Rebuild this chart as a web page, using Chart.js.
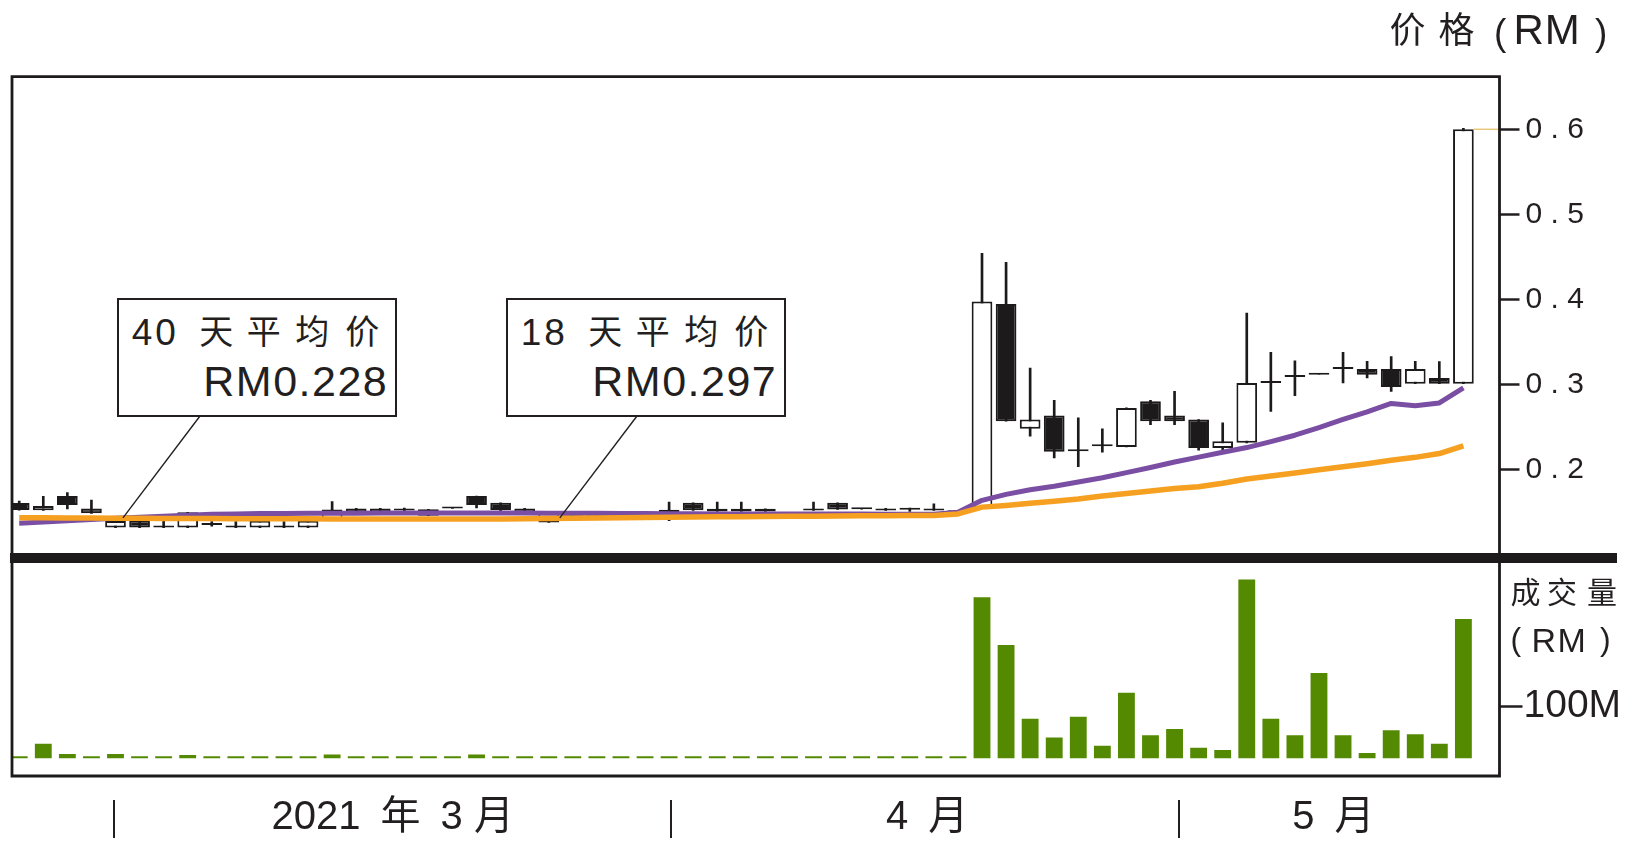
<!DOCTYPE html>
<html lang="zh">
<head>
<meta charset="utf-8">
<title>价格 / 成交量</title>
<script src="https://cdn.jsdelivr.net/npm/chart.js@4.4.1/dist/chart.umd.min.js"></script>
<style>
html,body{margin:0;padding:0;background:#fff;}
#wrap{position:relative;width:1633px;height:852px;overflow:hidden;background:#fff;}
#price{position:absolute;left:0;top:0;}
#vol{position:absolute;left:0;top:553px;}
.t{position:absolute;white-space:pre;line-height:1;color:#231f20;margin:0;padding:0;}
.box{position:absolute;box-sizing:border-box;border:2.7px solid #231f20;background:#fff;}
</style>
</head>
<body>
<div id="wrap">
<canvas id="price" width="1633" height="560"></canvas>
<canvas id="vol" width="1633" height="299"></canvas>
</div>
<script>
// ---------- data ----------
const openP = [
0.161, 0.1522, 0.169, 0.1545, 0.132, 0.1404, 0.132, 0.132, 0.135, 0.132,
0.132, 0.132, 0.132, 0.142, 0.1545, 0.1545, 0.152, 0.146, 0.1545, 0.169,
0.1612, 0.1545, 0.138, 0.146, 0.146, 0.146, 0.146, 0.150, 0.1612, 0.154,
0.154, 0.154, 0.146, 0.152, 0.1612, 0.1535, 0.1545, 0.153, 0.152, 0.150,
0.155, 0.3948, 0.248, 0.2636, 0.2217, 0.2275, 0.2268, 0.2803, 0.2636, 0.2589,
0.2256, 0.2316, 0.302, 0.3089, 0.3116, 0.3183, 0.3183, 0.3183, 0.301, 0.3077,
0.301];
const closeP = [
0.1525, 0.1572, 0.1585, 0.1487, 0.1396, 0.132, 0.132, 0.150, 0.135, 0.132,
0.140, 0.132, 0.140, 0.1533, 0.1495, 0.1495, 0.152, 0.1535, 0.1545, 0.1585,
0.1525, 0.1475, 0.150, 0.146, 0.146, 0.146, 0.146, 0.153, 0.1522, 0.151,
0.151, 0.151, 0.146, 0.152, 0.1533, 0.1535, 0.152, 0.153, 0.1535, 0.150,
0.3975, 0.2569, 0.2589, 0.221, 0.2217, 0.2275, 0.2726, 0.2569, 0.2569, 0.2256,
0.2334, 0.302, 0.302, 0.3089, 0.3116, 0.3183, 0.3116, 0.2972, 0.3183, 0.301,
0.600];
const highP = [
0.163, 0.1686, 0.173, 0.1643, 0.1396, 0.1404, 0.140, 0.150, 0.139, 0.139,
0.140, 0.139, 0.140, 0.1624, 0.1545, 0.1545, 0.155, 0.1535, 0.1545, 0.169,
0.1612, 0.1545, 0.150, 0.146, 0.146, 0.146, 0.146, 0.162, 0.1612, 0.162,
0.162, 0.154, 0.146, 0.162, 0.1612, 0.1535, 0.1545, 0.155, 0.160, 0.150,
0.4543, 0.4437, 0.3195, 0.2815, 0.2609, 0.248, 0.2726, 0.2815, 0.292, 0.2589,
0.255, 0.3839, 0.3378, 0.328, 0.3116, 0.3378, 0.3272, 0.333, 0.3272, 0.327,
0.601];
const lowP = [
0.1525, 0.1522, 0.154, 0.1487, 0.132, 0.132, 0.132, 0.132, 0.1335, 0.132,
0.132, 0.132, 0.132, 0.142, 0.1495, 0.1495, 0.149, 0.146, 0.1545, 0.155,
0.150, 0.1475, 0.138, 0.146, 0.146, 0.146, 0.146, 0.140, 0.1522, 0.151,
0.151, 0.151, 0.146, 0.152, 0.1533, 0.1535, 0.152, 0.151, 0.152, 0.150,
0.155, 0.2569, 0.2393, 0.2139, 0.2034, 0.2205, 0.2268, 0.253, 0.253, 0.2229,
0.2229, 0.2316, 0.2686, 0.287, 0.3116, 0.302, 0.3077, 0.292, 0.301, 0.301,
0.301];
// 成交量 (RM, million)
const volume = [
3, 28, 8, 3, 8, 3, 3, 6, 3, 3,
2, 2, 3, 7, 3, 3, 3, 3, 3, 7,
3, 3, 3, 3, 3, 3, 3, 3, 3, 3,
3, 3, 3, 3, 3, 3, 3, 3, 3, 3,
310, 218, 76, 40, 80, 24, 126, 44, 56, 20,
16, 344, 76, 44, 164, 44, 10, 54, 46, 28,
268];
// 40 天平均价
const ma40 = [
0.1435, 0.1434, 0.1433, 0.1432, 0.1430, 0.1428, 0.1427, 0.1426, 0.1425, 0.1424,
0.1424, 0.1423, 0.1423, 0.1422, 0.1422, 0.1421, 0.1421, 0.1420, 0.1420, 0.1420,
0.1421, 0.1423, 0.1426, 0.1429, 0.1432, 0.1436, 0.1439, 0.1442, 0.1444, 0.1446,
0.1448, 0.1450, 0.1452, 0.1454, 0.1456, 0.1458, 0.1460, 0.1462, 0.1463, 0.148,
0.156, 0.158, 0.1605, 0.163, 0.1655, 0.169, 0.172, 0.175, 0.178, 0.180,
0.184, 0.189, 0.1925, 0.196, 0.200, 0.2035, 0.207, 0.211, 0.2145, 0.219,
0.228];
// 18 天平均价
const ma18 = [
0.1372, 0.1385, 0.1400, 0.1415, 0.1428, 0.1440, 0.1452, 0.1465, 0.1475, 0.1480,
0.1484, 0.1486, 0.1487, 0.1488, 0.1489, 0.1490, 0.1490, 0.1490, 0.1491, 0.1491,
0.1490, 0.1490, 0.1489, 0.1488, 0.1487, 0.1486, 0.1484, 0.1482, 0.1481, 0.1480,
0.1480, 0.1479, 0.1479, 0.1478, 0.1478, 0.1478, 0.1477, 0.1477, 0.1477, 0.150,
0.164, 0.171, 0.1765, 0.1805, 0.1855, 0.1905, 0.1965, 0.2025, 0.209, 0.2148,
0.2205, 0.226, 0.233, 0.2405, 0.2495, 0.259, 0.268, 0.2778, 0.2752, 0.2784,
0.296];
const priceTicks = [0.2, 0.3, 0.4, 0.5, 0.6];
const priceTickLabels = ['0 . 2', '0 . 3', '0 . 4', '0 . 5', '0 . 6'];
const volTicks = [100];
const volTickLabels = ['100M'];
const monthLabels = ['2021\u2002年\u20023 月', '4\u2002月', '5\u2002月'];
const monthLabelPos = [15.52, 37.72, 54.6];      // x-axis value (trading-day index)
const monthDividers = [3.95, 27.07, 48.18];      // x-axis value of month boundary marks

// ---------- style ----------
const INK = '#1c1a1b';
const TXT = '#231f20';
const PURPLE = '#7a4fa3';
const ORANGE = '#f6a022';
const GREEN = '#548a02';
const LAT = "'Liberation Sans', Arial, sans-serif";
const CJK = "'Noto Sans CJK SC', sans-serif";
const MIX = "'Liberation Sans', 'Noto Sans CJK SC', sans-serif";
const X_MIN = -0.3, X_MAX = 61.5;
const AXIS_W = 133.5;

const idx = openP.map((_, i) => i);

const notes = [
  { boxLeft: 117.3, fromX: 200, at: [4.31, 0.1433], days: '40', val: 'RM0.228' },
  { boxLeft: 506.3, fromX: 637, at: [22.46, 0.1433], days: '18', val: 'RM0.297' }
];

const priceFrame = {
  id: 'priceFrame',
  afterDatasetsDraw(c) {
    const { ctx, chartArea: a } = c;
    const xs = c.scales.x, ys = c.scales.y;
    ctx.save();
    const last = closeP.length - 1;
    ctx.strokeStyle = '#e8c77a';
    ctx.lineWidth = 1.5;
    ctx.beginPath();
    ctx.moveTo(xs.getPixelForValue(last) + 10, ys.getPixelForValue(closeP[last]));
    ctx.lineTo(a.right, ys.getPixelForValue(closeP[last]));
    ctx.stroke();
    ctx.strokeStyle = TXT;
    ctx.lineWidth = 1.4;
    notes.forEach(n => {
      ctx.beginPath();
      ctx.moveTo(n.fromX, 416);
      ctx.lineTo(xs.getPixelForValue(n.at[0]), ys.getPixelForValue(n.at[1]));
      ctx.stroke();
    });
    ctx.restore();
  },
  afterDraw(c) {
    const { ctx, chartArea: a } = c;
    ctx.save();
    ctx.strokeStyle = INK;
    ctx.lineWidth = 2.8;
    ctx.beginPath();
    ctx.moveTo(a.left, a.bottom + 5);
    ctx.lineTo(a.left, a.top);
    ctx.lineTo(a.right, a.top);
    ctx.lineTo(a.right, a.bottom + 5);
    ctx.stroke();
    ctx.restore();
  }
};

const volFrame = {
  id: 'volFrame',
  afterDraw(c) {
    const { ctx, chartArea: a } = c;
    const xs = c.scales.x;
    ctx.save();
    ctx.fillStyle = INK;
    ctx.fillRect(10, 0, 1617 - 10, a.top);
    ctx.strokeStyle = INK;
    ctx.lineWidth = 2.8;
    ctx.beginPath();
    ctx.moveTo(a.left, a.top);
    ctx.lineTo(a.left, a.bottom);
    ctx.lineTo(a.right, a.bottom);
    ctx.lineTo(a.right, a.top);
    ctx.stroke();
    ctx.strokeStyle = TXT;
    ctx.lineWidth = 2;
    monthDividers.forEach(v => {
      const px = Math.round(xs.getPixelForValue(v));
      ctx.beginPath();
      ctx.moveTo(px, a.bottom + 24);
      ctx.lineTo(px, a.bottom + 62);
      ctx.stroke();
    });
    ctx.restore();
  }
};

const fixY = s => { s.width = AXIS_W; s.paddingTop = 0; s.paddingBottom = 0; };
const xBase = () => ({
  type: 'linear', min: X_MIN, max: X_MAX, offset: false,
  afterBuildTicks: s => { s.ticks = monthLabelPos.map(v => ({ value: v })); }
});

new Chart(document.getElementById('price'), {
  type: 'bar',
  data: {
    datasets: [
      { type: 'line', label: '40 天平均价', data: idx.map(i => ({ x: i, y: ma40[i] })),
        borderColor: ORANGE, borderWidth: 5.5, pointRadius: 0, tension: 0, fill: false, order: 0,
        borderJoinStyle: 'round' },
      { type: 'line', label: '18 天平均价', data: idx.map(i => ({ x: i, y: ma18[i] })),
        borderColor: PURPLE, borderWidth: 5, pointRadius: 0, tension: 0, fill: false, order: 1,
        borderJoinStyle: 'round' },
      { type: 'bar', label: 'body', data: idx.map(i => ({ x: i, y: [openP[i], closeP[i]] })),
        backgroundColor: c => (closeP[c.dataIndex] >= openP[c.dataIndex] ? '#ffffff' : INK),
        borderColor: INK, borderWidth: 2, borderSkipped: false, grouped: false,
        barPercentage: 0.86, categoryPercentage: 1, minBarLength: 2, order: 2 },
      { type: 'bar', label: 'wick', data: idx.map(i => ({ x: i, y: [lowP[i], highP[i]] })),
        backgroundColor: INK, borderWidth: 0, grouped: false, barThickness: 2, order: 3 }
    ]
  },
  options: {
    responsive: false, animation: false, events: [],
    layout: { padding: { left: 12, right: 0, top: 76.7, bottom: 7 } },
    plugins: { legend: { display: false }, tooltip: { enabled: false } },
    scales: {
      x: Object.assign(xBase(), { display: false, grid: { offset: false } }),
      y: {
        position: 'right', min: 0.1021, max: 0.6618,
        afterBuildTicks: s => { s.ticks = priceTicks.map(v => ({ value: v })); },
        afterFit: fixY,
        grid: { drawOnChartArea: false, drawTicks: true, tickLength: 20, tickWidth: 2.5, tickColor: TXT },
        border: { display: false },
        ticks: { padding: 6, color: TXT, font: { family: LAT, size: 30 },
          callback: (v, i) => priceTickLabels[i] }
      }
    }
  },
  plugins: [priceFrame]
});

new Chart(document.getElementById('vol'), {
  type: 'bar',
  data: {
    datasets: [
      { label: '成交量', data: idx.map(i => ({ x: i, y: volume[i] })),
        backgroundColor: GREEN, borderWidth: 0, grouped: false,
        barPercentage: 0.7, categoryPercentage: 1, minBarLength: 2 }
    ]
  },
  options: {
    responsive: false, animation: false, events: [],
    layout: { padding: { left: 12, right: 0, top: 10, bottom: 0 } },
    plugins: { legend: { display: false }, tooltip: { enabled: false } },
    scales: {
      x: Object.assign(xBase(), {
        position: 'bottom',
        afterFit: s => { s.height = 76; s.paddingLeft = 0; s.paddingRight = 0; },
        grid: { display: false, drawTicks: false, offset: false },
        border: { display: false },
        ticks: { autoSkip: false, maxRotation: 0, minRotation: 0, padding: 18, color: TXT,
          font: { family: MIX, size: 40 }, callback: (v, i) => monthLabels[i] }
      }),
      y: {
        position: 'right', min: -34.3, max: 376,
        afterBuildTicks: s => { s.ticks = volTicks.map(v => ({ value: v })); },
        afterFit: fixY,
        grid: { drawOnChartArea: false, drawTicks: true, tickLength: 23, tickWidth: 2.5, tickColor: TXT },
        border: { display: false },
        ticks: { padding: 1, color: TXT, font: { family: LAT, size: 39 },
          callback: (v, i) => volTickLabels[i] }
      }
    }
  },
  plugins: [volFrame]
});

// ---------- HTML text (titles + annotation boxes) ----------
const wrap = document.getElementById('wrap');
function put(text, x, base, size, fam, ls) {
  const d = document.createElement('div');
  d.className = 't';
  d.textContent = text;
  const k = fam === 'cjk' ? 0.936 : 0.8465;
  d.style.left = x + 'px';
  d.style.top = (base - k * size) + 'px';
  d.style.fontSize = size + 'px';
  d.style.fontFamily = fam === 'cjk' ? CJK : LAT;
  if (ls) d.style.letterSpacing = ls + 'px';
  wrap.appendChild(d);
}
// price axis title
put('价', 1389.4, 42.5, 36, 'cjk');
put('格', 1438.6, 42.5, 36, 'cjk');
put('(', 1494, 45, 37, 'lat');
put('RM', 1513.4, 45, 42, 'lat', 1);
put(')', 1595, 45, 37, 'lat');
// volume axis title
put('成', 1510.5, 602.9, 30, 'cjk');
put('交', 1547, 602.9, 30, 'cjk');
put('量', 1587, 602.9, 30, 'cjk');
put('(', 1510.5, 650, 32, 'lat');
put('RM', 1531.5, 651.7, 34, 'lat', 1.5);
put(')', 1600, 650, 32, 'lat');
// annotation boxes
const cjkTitle = ['天', '平', '均', '价'];
const cjkOffsets = [82, 129.5, 178, 228];
notes.forEach(n => {
  const b = document.createElement('div');
  b.className = 'box';
  b.style.left = n.boxLeft + 'px';
  b.style.top = '298.3px';
  b.style.width = '279.4px';
  b.style.height = '118.4px';
  wrap.appendChild(b);
  put(n.days, n.boxLeft + 14.5, 345.5, 37, 'lat', 3);
  cjkTitle.forEach((ch, k) => put(ch, n.boxLeft + cjkOffsets[k], 345, 34, 'cjk'));
  put(n.val, n.boxLeft + 86, 396.5, 43, 'lat', 1.5);
});
</script>
</body>
</html>
